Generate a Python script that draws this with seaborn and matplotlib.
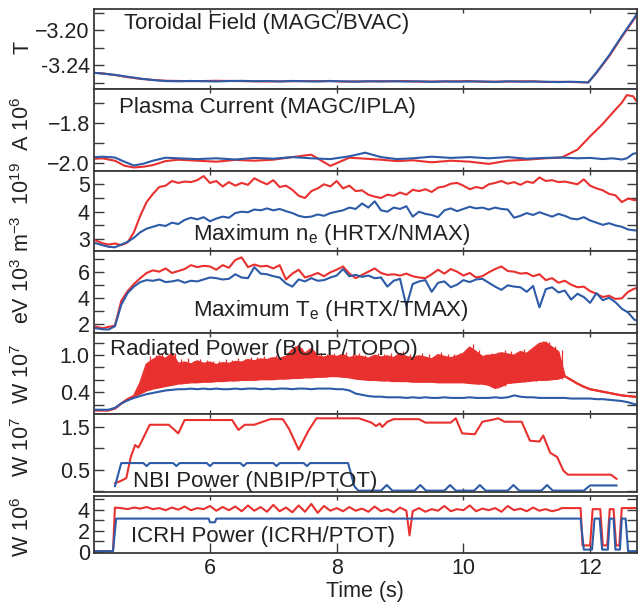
import numpy as np
import pandas as pd
import matplotlib
matplotlib.use("Agg")
import matplotlib.pyplot as plt
import seaborn as sns
from matplotlib.ticker import FixedLocator

sns.set_theme(style="ticks")
plt.rcParams['font.family'] = ['Liberation Sans', 'DejaVu Sans']
plt.rcParams['mathtext.default'] = 'regular'

RED = "#e8312f"
BLUE = "#2d5ba8"
AXC = "#3a3a3a"

# ---------------- data ----------------
# Panel 1: toroidal field (T)
t_bt = [4.1, 4.3, 4.5, 4.7, 4.9, 5.1, 5.3, 5.5, 5.7, 5.9, 6.1, 6.3, 6.5, 6.7, 6.9, 7.1, 7.3, 7.5, 7.7, 7.9,
        8.1, 8.3, 8.5, 8.7, 8.9, 9.1, 9.3, 9.5, 9.7, 9.9, 10.1, 10.3, 10.5, 10.7, 10.9, 11.1, 11.3, 11.5, 11.7, 11.9,
        11.97, 12.1, 12.3, 12.5, 12.7, 12.8]
bt_red = [-3.2488, -3.2494, -3.2515, -3.2538, -3.2558, -3.2570, -3.2580, -3.2582, -3.2584, -3.2583,
          -3.2580, -3.2582, -3.2584, -3.2586, -3.2588, -3.2586, -3.2585, -3.2583, -3.2584, -3.2582,
          -3.2590, -3.2588, -3.2587, -3.2585, -3.2584, -3.2583, -3.2590, -3.2589, -3.2588, -3.2586,
          -3.2584, -3.2591, -3.2590, -3.2589, -3.2587, -3.2586, -3.2594, -3.2592, -3.2594, -3.2598,
          -3.2598, -3.2490, -3.2300, -3.2080, -3.1870, -3.1760]
bt_blue = [-3.2484, -3.2498, -3.2512, -3.2534, -3.2555, -3.2572, -3.2583, -3.2586, -3.2582, -3.2585,
           -3.2588, -3.2583, -3.2581, -3.2585, -3.2583, -3.2588, -3.2582, -3.2586, -3.2588, -3.2584,
           -3.2586, -3.2590, -3.2585, -3.2588, -3.2586, -3.2589, -3.2586, -3.2592, -3.2587, -3.2590,
           -3.2588, -3.2588, -3.2593, -3.2586, -3.2590, -3.2589, -3.2591, -3.2595, -3.2591, -3.2596,
           -3.2600, -3.2485, -3.2290, -3.2070, -3.1860, -3.1750]

# Panel 2: plasma current (MA)
t_ip = [4.1, 4.3, 4.5, 4.65, 4.8, 4.95, 5.1, 5.3, 5.5, 5.8, 6.1, 6.4, 6.7, 7.0, 7.3, 7.6, 7.9, 8.2, 8.45, 8.7,
        8.95, 9.2, 9.5, 9.8, 10.1, 10.4, 10.7, 11.0, 11.3, 11.55, 11.8, 12.0, 12.2, 12.35, 12.5, 12.58, 12.68, 12.8]
ip_blue = [-1.974, -1.970, -1.974, -1.995, -2.014, -2.005, -1.990, -1.975, -1.978, -1.982,
           -1.978, -1.984, -1.976, -1.980, -1.972, -1.978, -1.982, -1.968, -1.950, -1.972,
           -1.982, -1.978, -1.970, -1.976, -1.972, -1.978, -1.972, -1.980, -1.976, -1.974,
           -1.978, -1.976, -1.982, -1.978, -1.984, -1.978, -1.955, -1.950]
ip_red = [-1.982, -1.978, -1.990, -2.015, -2.024, -2.020, -2.012, -1.992, -1.985, -1.990,
          -1.995, -1.986, -1.990, -1.985, -1.972, -1.960, -2.016, -1.975, -1.980, -1.985,
          -1.992, -1.988, -1.998, -1.990, -1.995, -2.006, -1.990, -1.985, -1.978, -1.974,
          -1.935, -1.868, -1.806, -1.752, -1.700, -1.662, -1.668, -1.725]

# common 0.1 s sampling for panels 3-5
t_grid = [4.1, 4.2, 4.3, 4.4, 4.5, 4.6, 4.7, 4.8, 4.9,
          5.0, 5.1, 5.2, 5.3, 5.4, 5.5, 5.6, 5.7, 5.8, 5.9,
          6.0, 6.1, 6.2, 6.3, 6.4, 6.5, 6.6, 6.7, 6.8, 6.9,
          7.0, 7.1, 7.2, 7.3, 7.4, 7.5, 7.6, 7.7, 7.8, 7.9,
          8.0, 8.1, 8.2, 8.3, 8.4, 8.5, 8.6, 8.7, 8.8, 8.9,
          9.0, 9.1, 9.2, 9.3, 9.4, 9.5, 9.6, 9.7, 9.8, 9.9,
          10.0, 10.1, 10.2, 10.3, 10.4, 10.5, 10.6, 10.7, 10.8, 10.9,
          11.0, 11.1, 11.2, 11.3, 11.4, 11.5, 11.6, 11.7, 11.8, 11.9,
          12.0, 12.1, 12.2, 12.3, 12.4, 12.5, 12.6, 12.7, 12.8]

# Panel 3: maximum ne (1e19 m^-3)
ne_red = [2.95, 2.95, 2.85, 2.80, 2.84, 2.78, 2.88, 3.25, 3.85,
          4.35, 4.65, 4.90, 4.95, 5.12, 5.05, 5.10, 5.08, 5.15, 5.30,
          5.05, 5.12, 4.92, 5.08, 4.95, 5.05, 4.98, 5.22, 5.10, 5.00,
          5.15, 4.90, 4.95, 4.80, 4.58, 4.50, 4.75, 4.85, 5.00, 4.92,
          5.12, 4.85, 4.95, 4.75, 4.78, 4.62, 4.55, 4.50, 4.62, 4.58,
          4.70, 4.62, 4.80, 4.75, 4.82, 4.72, 4.88, 4.92, 5.02, 5.05,
          4.95, 4.82, 4.90, 4.85, 5.00, 5.05, 5.12, 5.02, 5.08, 4.98,
          5.10, 5.05, 5.25, 5.12, 5.15, 5.08, 5.10, 5.05, 5.00, 5.18,
          4.95, 4.85, 4.78, 4.65, 4.60, 4.35, 4.48, 4.42, 4.45]
ne_blue = [2.85, 2.85, 2.78, 2.72, 2.70, 2.80, 2.90, 3.05, 3.25,
           3.38, 3.45, 3.52, 3.48, 3.60, 3.55, 3.70, 3.78, 3.72, 3.80,
           3.65, 3.75, 3.82, 3.78, 3.95, 4.00, 3.98, 4.08, 4.05, 4.12,
           4.05, 4.10, 4.02, 3.95, 3.85, 3.80, 3.82, 3.90, 3.85, 3.95,
           4.00, 4.05, 4.15, 4.10, 4.30, 4.15, 4.38, 4.05, 4.00, 4.15,
           4.10, 4.20, 3.82, 4.00, 3.92, 3.88, 3.80, 4.05, 4.12, 4.02,
           4.10, 4.18, 4.12, 4.15, 4.08, 4.15, 4.10, 4.08, 3.78, 3.85,
           3.95, 3.88, 3.98, 3.90, 3.82, 3.92, 3.85, 3.75, 3.72, 3.80,
           3.68, 3.60, 3.52, 3.58, 3.50, 3.45, 3.35, 3.32, 3.30]

# Panel 4: maximum Te (keV)
te_red = [1.82, 1.82, 1.70, 1.80, 1.90, 3.80, 4.55, 5.10, 5.55,
          5.95, 6.15, 6.05, 6.30, 5.95, 6.10, 6.25, 6.55, 6.40, 6.50,
          6.45, 6.20, 6.55, 6.35, 6.95, 7.15, 6.40, 6.60, 6.45, 6.50,
          6.30, 6.55, 5.45, 5.90, 6.20, 5.60, 5.75, 5.95, 5.70, 6.00,
          6.20, 6.45, 5.90, 5.55, 5.80, 6.05, 6.30, 5.95, 5.80, 5.85,
          5.75, 5.90, 5.70, 5.60, 5.55, 5.85, 6.20, 5.90, 6.25, 6.05,
          5.75, 5.95, 5.60, 5.70, 6.00, 6.25, 6.45, 6.10, 6.05, 5.90,
          5.95, 5.70, 5.85, 5.40, 5.55, 5.20, 5.35, 5.05, 4.85, 4.90,
          4.55, 4.35, 4.10, 4.20, 3.95, 4.00, 4.50, 4.75, 4.85]
te_blue = [1.70, 1.70, 1.62, 1.60, 1.85, 3.50, 4.40, 4.90, 5.25,
           5.40, 5.35, 5.45, 5.25, 5.30, 5.40, 5.20, 5.35, 5.30, 5.45,
           5.60, 5.55, 5.45, 5.50, 5.85, 5.60, 5.55, 6.40, 5.90, 5.85,
           5.70, 5.60, 5.15, 4.90, 5.45, 5.30, 5.55, 5.35, 5.40, 5.60,
           5.75, 6.25, 5.70, 5.80, 5.65, 5.75, 5.55, 5.60, 4.90, 5.35,
           5.50, 3.40, 5.10, 5.30, 5.40, 4.50, 5.20, 5.30, 4.85, 5.05,
           5.40, 5.25, 5.45, 5.50, 5.20, 4.90, 4.65, 5.00, 4.90, 4.85,
           4.50, 4.95, 3.30, 4.70, 4.85, 4.45, 4.60, 3.90, 4.35, 4.10,
           3.65, 4.40, 3.85, 4.05, 3.70, 3.20, 2.90, 2.35, 2.20]

# Panel 5: radiated power (1e7 W)
prad_blue = [0.12, 0.12, 0.12, 0.12, 0.15, 0.22, 0.27, 0.31, 0.34,
             0.37, 0.39, 0.41, 0.43, 0.44, 0.45, 0.45, 0.46, 0.45, 0.46,
             0.45, 0.46, 0.45, 0.45, 0.46, 0.45, 0.46, 0.46, 0.45, 0.46,
             0.45, 0.46, 0.46, 0.45, 0.46, 0.46, 0.45, 0.46, 0.46, 0.46,
             0.45, 0.45, 0.43, 0.38, 0.36, 0.34, 0.33, 0.33, 0.32, 0.32,
             0.32, 0.31, 0.32, 0.31, 0.32, 0.31, 0.31, 0.32, 0.31, 0.31,
             0.31, 0.32, 0.31, 0.31, 0.31, 0.32, 0.31, 0.32, 0.35, 0.33,
             0.32, 0.32, 0.31, 0.31, 0.31, 0.31, 0.31, 0.30, 0.30, 0.30,
             0.30, 0.29, 0.29, 0.28, 0.27, 0.26, 0.24, 0.21, 0.20]
prad_red_low = [0.11, 0.11, 0.11, 0.11, 0.14, 0.22, 0.29, 0.34, 0.38,
                0.43, 0.46, 0.48, 0.50, 0.52, 0.54, 0.55, 0.56, 0.56, 0.57,
                0.57, 0.58, 0.58, 0.59, 0.59, 0.60, 0.60, 0.60, 0.61, 0.61,
                0.61, 0.62, 0.62, 0.63, 0.63, 0.64, 0.64, 0.65, 0.65, 0.66,
                0.66, 0.65, 0.64, 0.62, 0.61, 0.60, 0.60, 0.59, 0.59, 0.58,
                0.58, 0.58, 0.57, 0.57, 0.57, 0.57, 0.56, 0.56, 0.56, 0.56,
                0.56, 0.55, 0.54, 0.54, 0.52, 0.47, 0.50, 0.55, 0.56, 0.57,
                0.58, 0.59, 0.60, 0.60, 0.61, 0.62, 0.66, 0.60, 0.54, 0.49,
                0.45, 0.43, 0.41, 0.39, 0.37, 0.35, 0.34, 0.33, 0.32]
prad_red_high = [0.11, 0.11, 0.11, 0.11, 0.14, 0.22, 0.29, 0.34, 0.55,
                 0.85, 0.92, 0.98, 0.94, 1.02, 0.86, 0.88, 0.85, 0.90, 0.86,
                 0.88, 0.84, 0.87, 0.86, 0.89, 0.88, 0.92, 0.90, 0.93, 0.92,
                 0.95, 0.94, 0.97, 1.08, 1.14, 1.02, 1.10, 0.98, 0.96, 0.99,
                 0.97, 1.00, 0.95, 0.98, 0.97, 0.94, 0.99, 0.96, 0.98, 0.95,
                 1.02, 0.97, 0.95, 0.98, 0.96, 0.93, 1.00, 0.97, 0.95, 0.98,
                 1.02, 1.12, 1.05, 0.97, 0.99, 1.00, 1.03, 1.01, 0.99, 1.05,
                 1.02, 1.10, 1.18, 1.20, 1.12, 1.05, 0.66, 0.60, 0.54, 0.49,
                 0.45, 0.43, 0.41, 0.39, 0.37, 0.35, 0.34, 0.33, 0.32]
spike_t = [5.05, 5.15, 5.25, 5.35, 5.45, 5.55, 5.65, 5.75, 5.85, 5.95,
           6.05, 6.15, 6.25, 6.35, 6.45, 6.55, 6.65, 6.75, 6.85, 6.95,
           7.05, 7.15, 7.25, 7.35, 7.45, 7.55, 7.65, 7.75, 7.85, 7.95,
           8.05, 8.15, 8.25, 8.35, 8.45, 8.55, 8.65, 8.75, 8.85, 8.95,
           9.05, 9.15, 9.25, 9.35, 9.45, 9.55, 9.65, 9.75, 9.85, 9.95,
           10.05, 10.15, 10.25, 10.35, 10.45, 10.55, 10.65, 10.75, 10.85, 10.95,
           11.05, 11.15, 11.25, 11.35, 11.45, 11.55]
spike_top = [0.98, 1.00, 1.03, 0.97, 1.04, 0.93, 0.95, 0.90, 0.94, 0.92,
             0.91, 0.90, 0.93, 0.92, 0.95, 0.94, 0.97, 0.96, 0.98, 0.97,
             1.00, 0.99, 1.05, 1.15, 1.12, 1.08, 1.04, 1.03, 1.02, 1.04,
             1.02, 1.05, 1.01, 1.03, 1.00, 0.99, 1.04, 1.02, 1.03, 1.00,
             1.06, 1.01, 1.00, 1.03, 1.01, 0.99, 1.05, 1.02, 1.01, 1.04,
             1.08, 1.17, 1.08, 1.02, 1.04, 1.05, 1.08, 1.06, 1.04, 1.10,
             1.08, 1.16, 1.22, 1.21, 1.15, 1.08]
spike_base = [0.44, 0.47, 0.49, 0.51, 0.53, 0.54, 0.55, 0.56, 0.56, 0.57,
              0.57, 0.58, 0.58, 0.59, 0.59, 0.60, 0.60, 0.60, 0.61, 0.61,
              0.61, 0.62, 0.62, 0.63, 0.63, 0.64, 0.64, 0.65, 0.65, 0.66,
              0.66, 0.65, 0.64, 0.62, 0.61, 0.60, 0.60, 0.59, 0.59, 0.58,
              0.58, 0.58, 0.57, 0.57, 0.57, 0.57, 0.56, 0.56, 0.56, 0.56,
              0.56, 0.55, 0.54, 0.54, 0.52, 0.47, 0.50, 0.55, 0.56, 0.57,
              0.58, 0.59, 0.60, 0.60, 0.61, 0.62]

# Panel 6: NBI power (1e7 W)
nbi_red_t = [4.5, 4.6, 4.68, 4.75, 4.82, 4.87, 4.92, 5.05, 5.35, 5.5,
             5.6, 6.35, 6.45, 6.55, 6.7, 6.95, 7.15, 7.25, 7.4, 7.55,
             7.68, 8.35, 8.55, 8.62, 8.68, 8.72, 8.8, 8.9, 9.3, 9.4,
             9.8, 9.88, 9.98, 10.18, 10.3, 10.5, 10.55, 10.65, 10.92, 11.05,
             11.2, 11.26, 11.37, 11.48, 11.58, 11.65, 12.33, 12.42]
nbi_red = [0.19, 0.25, 0.31, 0.80, 1.08, 1.02, 1.16, 1.55, 1.55, 1.35,
           1.66, 1.66, 1.43, 1.55, 1.55, 1.68, 1.68, 1.45, 0.97, 1.40,
           1.70, 1.70, 1.60, 1.52, 1.58, 1.50, 1.62, 1.68, 1.68, 1.60,
           1.60, 1.70, 1.35, 1.33, 1.62, 1.68, 1.70, 1.62, 1.62, 1.18,
           1.16, 1.30, 0.90, 0.80, 0.48, 0.39, 0.39, 0.29]
nbi_blue_t = [4.5, 4.6, 4.95, 5.0, 5.05, 5.42, 5.47, 5.52, 5.95, 6.0, 6.05,
              6.48, 6.53, 6.58, 7.0, 7.05, 7.1, 7.48, 7.53, 7.58, 8.18, 8.28, 8.34,
              8.7, 8.79, 8.88, 9.23, 9.32, 9.41, 9.7, 9.79, 9.88, 10.17, 10.26, 10.35,
              10.7, 10.79, 10.88, 11.23, 11.32, 11.41, 11.9, 12.0, 12.42]
nbi_blue = [0.12, 0.66, 0.66, 0.59, 0.66, 0.66, 0.59, 0.66, 0.66, 0.59, 0.66,
            0.66, 0.59, 0.66, 0.66, 0.59, 0.66, 0.66, 0.59, 0.66, 0.66, 0.12, 0.02,
            0.02, 0.15, 0.02, 0.02, 0.15, 0.02, 0.02, 0.15, 0.02, 0.02, 0.15, 0.02,
            0.02, 0.15, 0.02, 0.02, 0.15, 0.02, 0.02, 0.14, 0.14]

# Panel 7: ICRH power (1e6 W)
icrh_red_t = [4.1, 4.47, 4.5, 4.6, 4.7, 4.8, 4.9,
              5.0, 5.1, 5.2, 5.3, 5.4, 5.5, 5.6, 5.7, 5.8, 5.9,
              6.0, 6.1, 6.2, 6.3, 6.4, 6.5, 6.6, 6.7, 6.8, 6.9,
              7.0, 7.1, 7.2, 7.3, 7.4, 7.5, 7.6, 7.7, 7.8, 7.9,
              8.0, 8.1, 8.2, 8.3, 8.4, 8.5, 8.6, 8.7, 8.8, 8.9,
              9.0, 9.1, 9.15, 9.2, 9.3, 9.4, 9.5, 9.6, 9.7, 9.8, 9.9,
              10.0, 10.1, 10.2, 10.3, 10.4, 10.5, 10.6, 10.7, 10.8, 10.9,
              11.0, 11.1, 11.2, 11.3, 11.4, 11.5, 11.55, 11.85, 11.88, 12.0,
              12.04, 12.16, 12.2, 12.27, 12.31, 12.37, 12.41, 12.46, 12.5, 12.8]
icrh_red = [0.05, 0.05, 4.20, 4.15, 4.05, 4.20, 4.10,
            4.25, 4.05, 4.15, 3.95, 4.20, 4.00, 4.30, 3.95, 4.15, 4.05,
            4.35, 3.90, 4.25, 3.95, 4.30, 3.85, 4.40, 3.90, 4.25, 3.80,
            4.45, 3.85, 4.20, 3.75, 4.40, 3.80, 4.55, 3.70, 4.35, 3.90,
            4.15, 3.85, 4.25, 3.90, 4.10, 3.80, 4.30, 3.85, 4.05, 3.75,
            4.20, 3.90, 1.55, 3.85, 4.15, 3.80, 4.05, 3.90, 4.35, 3.85, 4.05,
            3.95, 4.40, 3.85, 4.10, 3.95, 4.15, 3.80, 4.35, 3.95, 4.10,
            3.85, 4.20, 3.90, 4.05, 3.85, 4.00, 4.15, 4.15, 0.6, 0.6,
            4.05, 4.05, 0.6, 0.6, 4.05, 4.05, 0.6, 0.6, 4.15, 4.15]
icrh_blue_t = [4.1, 4.47, 4.52, 5.98, 6.0, 6.08, 6.1, 11.85, 11.9, 12.03, 12.07, 12.15,
               12.19, 12.28, 12.31, 12.37, 12.4, 12.47, 12.5, 12.56, 12.6, 12.8]
icrh_blue = [0.05, 0.05, 3.15, 3.15, 2.80, 2.80, 3.15, 3.15, 0.2, 0.2, 3.15, 3.15,
             0.2, 0.2, 3.15, 3.15, 0.2, 0.2, 3.15, 3.15, 0.05, 0.05]

x_ticks = [6, 8, 10, 12]
x_tick_labels = ["6", "8", "10", "12"]

panel_titles = ["Toroidal Field (MAGC/BVAC)", "Plasma Current (MAGC/IPLA)",
                "Maximum n$_e$ (HRTX/NMAX)", "Maximum T$_e$ (HRTX/TMAX)",
                "Radiated Power (BOLP/TOPO)", "NBI Power (NBIP/PTOT)", "ICRH Power (ICRH/PTOT)"]
unit_labels = ["T", "A 10$^6$", "m$^{-3}$  10$^{19}$", "eV 10$^3$", "W 10$^7$", "W 10$^7$", "W 10$^6$"]
ytick_major = [[-3.20, -3.24], [-1.8, -2.0], [3, 4, 5], [2, 4, 6], [0.4, 1.0], [0.5, 1.5], [0, 2, 4]]
ytick_labels = [["\u22123.20", "-3.24"], ["\u22121.8", "\u22122.0"], ["3", "4", "5"], ["2", "4", "6"],
                ["0.4", "1.0"], ["0.5", "1.5"], ["0", "2", "4"]]
ytick_minor = [[-3.18, -3.22, -3.26], [-1.7, -1.9], [3.5, 4.5], [3, 5, 7], [0.2, 0.6, 0.8, 1.2],
               [0.0, 1.0], [1, 3, 5]]

# ---------------- layout ----------------
W, H = 643, 604
L, R = 94, 637
panel_px = [(9, 89), (89, 171), (171, 251), (251, 332.5), (332.5, 414), (414, 492), (496, 552.5)]
ylims = [(-3.2674, -3.176), (-2.0415, -1.6315), (2.566, 5.485), (1.37, 7.64), (0.0514, 1.362),
         (-0.012, 1.80), (-0.076, 5.30)]
title_pos = [(4.64, -3.193), (4.57, -1.7265), (5.73, 3.15), (5.73, 3.10), (4.42, 1.096),
             (4.79, 0.228), (4.75, 1.43)]
label_y_px = [47, 124, 207, 291, 374, 447, 527]

fig = plt.figure(figsize=(W / 100, H / 100), dpi=100)
axes = []
for top, bot in panel_px:
    ax = fig.add_axes([L / W, 1 - bot / H, (R - L) / W, (bot - top) / H])
    axes.append(ax)

lw = 1.5
def line(ax, x, y, c):
    sns.lineplot(x=x, y=y, ax=ax, color=c, lw=lw, estimator=None, sort=False, legend=False)

line(axes[0], t_bt, bt_red, RED)
line(axes[0], t_bt, bt_blue, BLUE)
line(axes[1], t_ip, ip_red, RED)
line(axes[1], t_ip, ip_blue, BLUE)
line(axes[2], t_grid, ne_red, RED)
line(axes[2], t_grid, ne_blue, BLUE)
line(axes[3], t_grid, te_red, RED)
line(axes[3], t_grid, te_blue, BLUE)

ax5 = axes[4]
ax5.fill_between(t_grid, prad_red_low, prad_red_high, color=RED, lw=0)
ax5.vlines(spike_t, spike_base, spike_top, color=RED, lw=0.9)
line(ax5, t_grid, prad_red_high, RED)
line(ax5, t_grid, prad_red_low, RED)
line(ax5, t_grid, prad_blue, BLUE)

line(axes[5], nbi_red_t, nbi_red, RED)
line(axes[5], nbi_blue_t, nbi_blue, BLUE)
line(axes[6], icrh_red_t, icrh_red, RED)
line(axes[6], icrh_blue_t, icrh_blue, BLUE)

for i, ax in enumerate(axes):
    ax.set_xlim(4.17, 12.74)
    ax.set_ylim(*ylims[i])
    ax.set_xlabel("")
    ax.set_ylabel("")
    for s in ax.spines.values():
        s.set_color(AXC)
        s.set_linewidth(1.3)
    ax.set_yticks(ytick_major[i])
    ax.set_yticklabels(ytick_labels[i])
    ax.yaxis.set_minor_locator(FixedLocator(ytick_minor[i]))
    ax.set_xticks(x_ticks)
    ax.tick_params(axis='y', which='both', direction='in', left=True, right=True,
                   length=7, width=1.0, color=AXC, labelsize=15.5, pad=3, labelcolor="#222222")
    ax.tick_params(axis='x', which='both', direction='in', top=True, bottom=True,
                   length=3, width=1.0, color=AXC, labelsize=15.5, labelcolor="#222222")
    if i < 6:
        ax.tick_params(axis='x', labelbottom=False)
    else:
        ax.set_xticklabels(x_tick_labels)
        ax.tick_params(axis='x', pad=4)
    tx, ty = title_pos[i]
    ax.text(tx, ty, panel_titles[i], fontsize=16, color="#222222", ha='left', va='center')
    fig.text(23 / W, 1 - label_y_px[i] / H, unit_labels[i], rotation=90, fontsize=15.5,
             color="#222222", ha='center', va='center')

for tk in axes[6].xaxis.get_major_ticks():
    tk.tick1line.set_markersize(7)

fig.text(365 / W, 1 - 591 / H, "Time (s)", fontsize=15.5, color="#222222", ha='center', va='center')

fig.savefig("out.png", dpi=100)
